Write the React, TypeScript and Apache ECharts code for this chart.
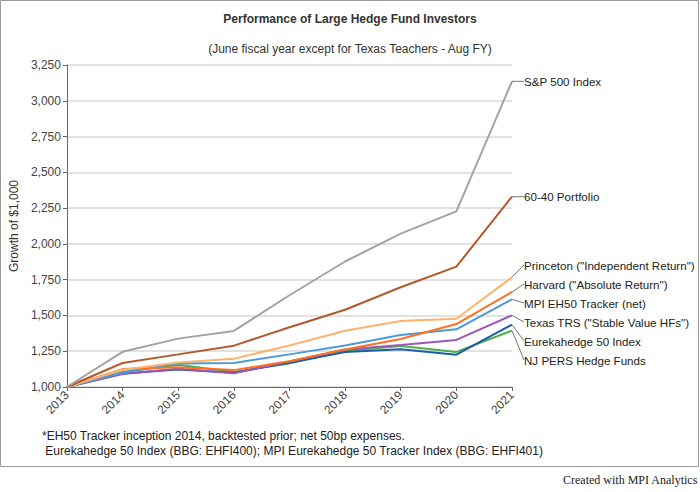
import React, { useEffect, useRef } from "react";
import * as echarts from "echarts";

const years = ["2013", "2014", "2015", "2016", "2017", "2018", "2019", "2020", "2021"];

const seriesNames = [
  "S&P 500 Index",
  "60-40 Portfolio",
  "Princeton (\"Independent Return\")",
  "Harvard (\"Absolute Return\")",
  "MPI EH50 Tracker (net)",
  "Texas TRS (\"Stable Value HFs\")",
  "Eurekahedge 50 Index",
  "NJ PERS Hedge Funds",
];

const sp500 = [1000, 1246, 1338, 1392, 1641, 1877, 2072, 2227, 3136];
const portfolio6040 = [1000, 1168, 1228, 1289, 1417, 1540, 1697, 1841, 2330];
const princeton = [1000, 1120, 1172, 1198, 1290, 1393, 1461, 1477, 1767];
const harvard = [1000, 1125, 1138, 1118, 1180, 1262, 1335, 1440, 1664];
const mpiTracker = [1000, 1100, 1165, 1168, 1228, 1290, 1363, 1403, 1613];
const texasTrs = [1000, 1090, 1128, 1096, 1178, 1262, 1294, 1329, 1501];
const eh50Index = [1000, 1095, 1122, 1100, 1170, 1245, 1263, 1226, 1436];
const njPers = [1000, 1105, 1155, 1105, 1165, 1252, 1287, 1245, 1394];

const allValues = [sp500, portfolio6040, princeton, harvard, mpiTracker, texasTrs, eh50Index, njPers];
const colors = ["#a3a3a3", "#b25a2b", "#ffb26e", "#ff6f1f", "#4b9bd6", "#9c55b8", "#1c5ca8", "#4caf4f"];

const footnotes = [
  "*EH50 Tracker inception 2014, backtested prior; net 50bp expenses.",
  " Eurekahedge 50 Index (BBG: EHFI400); MPI Eurekahedge 50 Tracker Index (BBG: EHFI401)",
];

const FONT = "'Liberation Sans', Arial, sans-serif";
const LABEL_GAP = 19;

// spread end labels so they don't overlap (clusters centred on their anchors)
const spreadLabels = (anchors) => {
  const order = anchors.map((y, i) => i).sort((a, b) => anchors[a] - anchors[b]);
  let blocks = order.map((i) => ({ ids: [i], sum: anchors[i], top: anchors[i] }));
  let merged = true;
  while (merged) {
    merged = false;
    for (let k = 0; k < blocks.length - 1; k++) {
      const a = blocks[k];
      const b = blocks[k + 1];
      if (a.top + a.ids.length * LABEL_GAP > b.top) {
        const ids = a.ids.concat(b.ids);
        const sum = a.sum + b.sum;
        const mean = sum / ids.length;
        const top = mean - ((ids.length - 1) / 2) * LABEL_GAP + 6;
        blocks.splice(k, 2, { ids, sum, top });
        merged = true;
        break;
      }
    }
  }
  const out = [];
  blocks.forEach((b) => b.ids.forEach((id, j) => (out[id] = b.top + j * LABEL_GAP)));
  return out;
};

const App = () => {
  const chartRef = useRef(null);

  useEffect(() => {
    document.body.style.margin = "0";
    if (!chartRef.current) return;
    const chart = echarts.init(chartRef.current, null, { renderer: "svg" });

    const makeSeries = (labelYs) =>
      seriesNames.map((name, s) => {
        const vals = allValues[s];
        return {
          name,
          type: "line",
          symbol: "circle",
          symbolSize: 0.01,
          showSymbol: true,
          color: colors[s],
          itemStyle: { color: colors[s] },
          lineStyle: { width: 2, color: colors[s] },
          z: 10 - s,
          data: vals.map((v, i) =>
            i === vals.length - 1 ? { value: v, label: { show: !!labelYs } } : v
          ),
          label: {
            show: false,
            position: "right",
            formatter: name,
            fontFamily: FONT,
            fontSize: 11.6,
            color: "#222",
          },
          labelLine: { show: true, lineStyle: { color: "#777", width: 1 } },
          labelLayout: labelYs
            ? (params) => ({
                x: params.rect.x + params.rect.width / 2 + 12,
                y: labelYs[s],
                align: "left",
                verticalAlign: "middle",
              })
            : undefined,
        };
      });

    const baseOption = {
      animation: false,
      textStyle: { fontFamily: FONT },
      title: [
        {
          text: "Performance of Large Hedge Fund Investors",
          left: "center",
          top: 8,
          textStyle: { fontSize: 12, fontWeight: "bold", color: "#333", fontFamily: FONT },
        },
        {
          text: "(June fiscal year except for Texas Teachers - Aug FY)",
          left: "center",
          top: 38,
          textStyle: { fontSize: 12, fontWeight: "normal", color: "#333", fontFamily: FONT },
        },
      ],
      grid: { left: 60, right: 188, top: 65, bottom: 105, containLabel: false },
      xAxis: {
        type: "category",
        data: years,
        boundaryGap: false,
        axisLine: { lineStyle: { color: "#666", width: 1 } },
        axisTick: { show: true, length: 4, lineStyle: { color: "#666" } },
        axisLabel: { rotate: 45, fontSize: 12, color: "#444", margin: 6, fontFamily: FONT },
        splitLine: { show: false },
      },
      yAxis: {
        type: "value",
        min: 1000,
        max: 3250,
        interval: 250,
        name: "Growth of $1,000",
        nameLocation: "middle",
        nameGap: 46,
        nameTextStyle: { fontSize: 12, color: "#333", fontFamily: FONT },
        axisLine: { show: true, lineStyle: { color: "#666", width: 1 } },
        axisTick: { show: true, length: 4, lineStyle: { color: "#666" } },
        axisLabel: { fontSize: 12, color: "#444", margin: 6, fontFamily: FONT },
        splitLine: { lineStyle: { color: "#e2e2e2", width: 2 } },
      },
      graphic: [
        {
          type: "rect",
          shape: { x: 0.5, y: 0.5, width: 698, height: 466 },
          style: { fill: "none", stroke: "#9a9a9a", lineWidth: 1 },
          silent: true,
        },
        {
          type: "text",
          left: 42,
          top: 430,
          style: { text: footnotes[0], fontSize: 12, fill: "#222", fontFamily: FONT },
        },
        {
          type: "text",
          left: 42,
          top: 445,
          style: { text: footnotes[1], fontSize: 12, fill: "#222", fontFamily: FONT },
        },
        {
          type: "text",
          right: 2,
          top: 474,
          style: {
            text: "Created with MPI Analytics",
            fontSize: 12,
            fill: "#222",
            fontFamily: "'Liberation Serif', 'Times New Roman', serif",
          },
        },
      ],
    };

    chart.setOption({ ...baseOption, series: makeSeries(null) });
    const last = years.length - 1;
    const anchors = allValues.map((vals) => chart.convertToPixel({ gridIndex: 0 }, [last, vals[last]])[1]);
    const labelYs = spreadLabels(anchors);
    chart.setOption({ ...baseOption, series: makeSeries(labelYs) }, true);

    return () => chart.dispose();
  }, []);

  return <div ref={chartRef} style={{ width: "700px", height: "492px" }} />;
};

export default App;
